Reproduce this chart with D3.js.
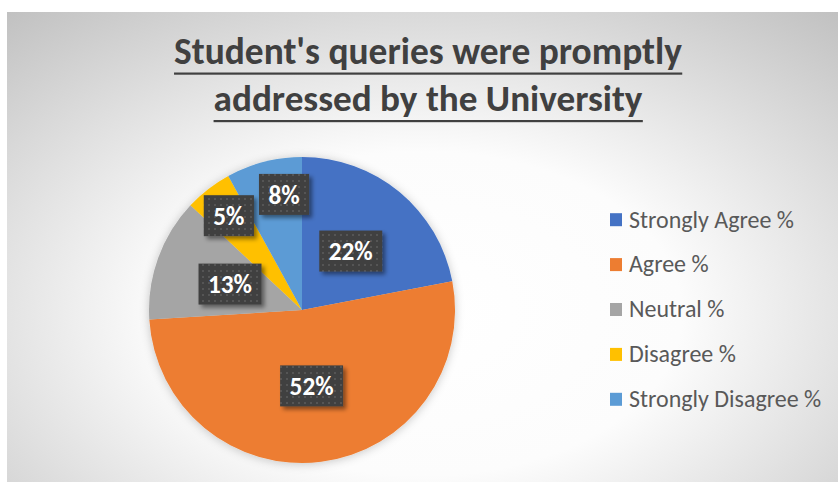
<!DOCTYPE html>
<html>
<head>
<meta charset="utf-8">
<script src="https://cdn.jsdelivr.net/npm/d3@7"></script>
<style>
  html, body { margin: 0; padding: 0; background: #fff; }
  svg { display: block; }
</style>
</head>
<body>
<div id="chart"></div>
<script>
// chart data
var titleLines = ["Student's queries were promptly", "addressed by the University"];
var categories = ["Strongly Agree %", "Agree %", "Neutral %", "Disagree %", "Strongly Disagree %"];
var values = [22, 52, 13, 5, 8];
var colors = ["#4472C4", "#ED7D31", "#A5A5A5", "#FFC000", "#5B9BD5"];

var W = 838, H = 482;
var FONT = "Carlito, Calibri, Lato, sans-serif";

var svg = d3.select("#chart").append("svg").attr("width", W).attr("height", H);
var defs = svg.append("defs");

// background gradient of the chart area
var bg = defs.append("radialGradient").attr("id", "bgGrad")
  .attr("cx", 0.5).attr("cy", 0.58).attr("r", 0.78);
bg.append("stop").attr("offset", "0%").attr("stop-color", "#ffffff");
bg.append("stop").attr("offset", "40%").attr("stop-color", "#fcfcfc");
bg.append("stop").attr("offset", "100%").attr("stop-color", "#bfbfbf");

// dotted texture for the data labels
var pat = defs.append("pattern").attr("id", "dots")
  .attr("patternUnits", "userSpaceOnUse").attr("width", 6).attr("height", 6);
pat.append("rect").attr("width", 6).attr("height", 6).attr("fill", "#404040");
pat.append("rect").attr("x", 2).attr("y", 2).attr("width", 2).attr("height", 2).attr("fill", "#555555");

var pieShadow = defs.append("filter").attr("id", "pieShadow")
  .attr("x", "-20%").attr("y", "-20%").attr("width", "140%").attr("height", "140%");
pieShadow.append("feDropShadow").attr("dx", 0).attr("dy", 1).attr("stdDeviation", 5)
  .attr("flood-color", "#000").attr("flood-opacity", 0.22);

var boxShadow = defs.append("filter").attr("id", "boxShadow")
  .attr("x", "-30%").attr("y", "-30%").attr("width", "160%").attr("height", "160%");
boxShadow.append("feDropShadow").attr("dx", 3).attr("dy", 3).attr("stdDeviation", 2)
  .attr("flood-color", "#000").attr("flood-opacity", 0.45);

svg.append("rect").attr("x", 7).attr("y", 12).attr("width", W - 7).attr("height", 520)
  .attr("fill", "url(#bgGrad)");

/** scale font size so that a text gets the wanted width */
function fitText(sel, base, width) {
  sel.style("font-size", base + "px");
  var len = sel.node().getComputedTextLength();
  var size = base * width / len;
  sel.style("font-size", size + "px");
  return size;
}

// title
var titleWidths = [508, 429];
var titleBase = [63.5, 111];
titleLines.forEach(function (t, i) {
  var txt = svg.append("text")
    .attr("x", 428).attr("y", titleBase[i])
    .attr("text-anchor", "middle")
    .style("font-family", FONT).style("font-weight", "bold")
    .attr("fill", "#404040")
    .text(t);
  fitText(txt, 30, titleWidths[i]);
  var bb = txt.node().getBBox();
  svg.append("rect")
    .attr("x", bb.x).attr("y", titleBase[i] + 9)
    .attr("width", bb.width).attr("height", 2.2)
    .attr("fill", "#404040");
});

// pie
var cx = 302, cy = 310, R = 153;
var pie = d3.pie().sort(null).value(function (d) { return d; });
var arcs = pie(values);
var arc = d3.arc().innerRadius(0).outerRadius(R);

var g = svg.append("g").attr("transform", "translate(" + cx + "," + cy + ")");
g.append("g").attr("filter", "url(#pieShadow)")
  .selectAll("path").data(arcs).enter().append("path")
  .attr("d", arc)
  .attr("fill", function (d, i) { return colors[i]; });

// data labels
var inner = d3.arc().innerRadius(0).outerRadius(R * 0.5 * 2);
var outer = d3.arc().innerRadius(0).outerRadius(R * 0.78 * 2);
var labels = arcs.map(function (d) {
  var c = (d.value < 10 ? outer : inner).centroid(d);
  return { d: d, x: c[0], y: c[1], text: d.value + "%" };
});

var lg = g.append("g");
var labelSize = null;
labels.forEach(function (L) {
  var grp = lg.append("g");
  var t = grp.append("text")
    .attr("text-anchor", "middle")
    .style("font-family", FONT).style("font-weight", "bold")
    .attr("fill", "#ffffff")
    .text(L.text);
  if (labelSize === null) labelSize = fitText(t, 22, 44);
  t.style("font-size", labelSize + "px");
  L.node = grp; L.txt = t;
  L.w = t.node().getComputedTextLength() + 19;
  L.h = 41;
});

// push overlapping labels apart sideways
labels.forEach(function (L, i) {
  for (var j = 0; j < i; j++) {
    var P = labels[j];
    var ox = (L.w + P.w) / 2 - Math.abs(L.x - P.x);
    var oy = (L.h + P.h) / 2 - Math.abs(L.y - P.y);
    if (ox > 0 && oy > 0) {
      L.x += (L.x >= P.x ? 1 : -1) * (ox + 5);
    }
  }
});

labels.forEach(function (L) {
  L.node.insert("rect", "text")
    .attr("x", L.x - L.w / 2).attr("y", L.y - L.h / 2)
    .attr("width", L.w).attr("height", L.h)
    .attr("fill", "url(#dots)")
    .attr("filter", "url(#boxShadow)");
  L.txt.attr("x", L.x).attr("y", L.y + labelSize * 0.36);
});

// legend
var legY = d3.scalePoint().domain(categories).range([219.7, 399.3]);
var leg = svg.append("g");
var items = leg.selectAll("g").data(categories).enter().append("g")
  .attr("transform", function (d) { return "translate(610," + legY(d) + ")"; });
items.append("rect")
  .attr("x", 0).attr("y", -6.5).attr("width", 12).attr("height", 13)
  .attr("fill", function (d, i) { return colors[i]; });
var legText = items.append("text")
  .attr("x", 19).attr("y", 7.8)
  .style("font-family", FONT)
  .attr("fill", "#595959")
  .text(function (d) { return d; });
var legSize = fitText(d3.select(legText.nodes()[0]), 20, 165);
legText.style("font-size", legSize + "px");
</script>
</body>
</html>
